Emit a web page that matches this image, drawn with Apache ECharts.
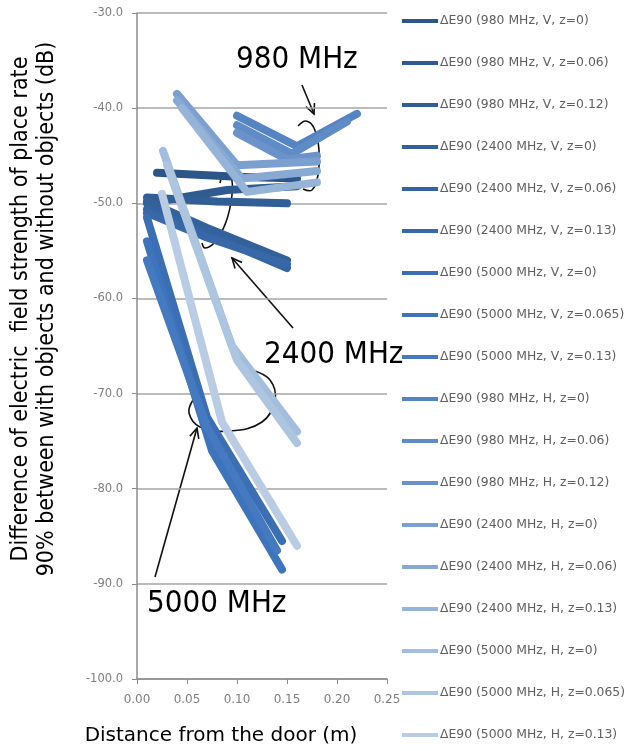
<!DOCTYPE html>
<html>
<head>
<meta charset="utf-8">
<script src="https://cdn.jsdelivr.net/npm/echarts@6/dist/echarts.min.js"></script>
<style>
  html, body { margin: 0; padding: 0; background: #fff; }
  #chart { width: 640px; height: 751px; }
</style>
</head>
<body>
<div id="chart"></div>
<script>
// tick labels
const xTicks = ['0.00', '0.05', '0.10', '0.15', '0.20', '0.25']
const yTicks = ['-100.0', '-90.0', '-80.0', '-70.0', '-60.0', '-50.0', '-40.0', '-30.0']

// legend names (same order as the series below)
const names = [
  'ΔE90 (980 MHz, V, z=0)', 'ΔE90 (980 MHz, V, z=0.06)', 'ΔE90 (980 MHz, V, z=0.12)',
  'ΔE90 (2400 MHz, V, z=0)', 'ΔE90 (2400 MHz, V, z=0.06)', 'ΔE90 (2400 MHz, V, z=0.13)',
  'ΔE90 (5000 MHz, V, z=0)', 'ΔE90 (5000 MHz, V, z=0.065)', 'ΔE90 (5000 MHz, V, z=0.13)',
  'ΔE90 (980 MHz, H, z=0)', 'ΔE90 (980 MHz, H, z=0.06)', 'ΔE90 (980 MHz, H, z=0.12)',
  'ΔE90 (2400 MHz, H, z=0)', 'ΔE90 (2400 MHz, H, z=0.06)', 'ΔE90 (2400 MHz, H, z=0.13)',
  'ΔE90 (5000 MHz, H, z=0)', 'ΔE90 (5000 MHz, H, z=0.065)', 'ΔE90 (5000 MHz, H, z=0.13)'
]

// [distance (m), dB]
const v980 = [
  [[0.02, -46.8], [0.10, -47.2], [0.16, -47.4]],
  [[0.01, -50.0], [0.09, -48.6], [0.16, -48.2]],
  [[0.01, -49.4], [0.08, -49.8], [0.15, -50.0]]
]
const v2400 = [
  [[0.01, -49.8], [0.07, -52.6], [0.15, -56.0]],
  [[0.01, -50.6], [0.07, -53.2], [0.15, -56.8]],
  [[0.01, -51.0], [0.07, -53.6], [0.15, -56.4]]
]
const v5000 = [
  [[0.01, -51.5], [0.07, -72.5], [0.145, -85.5]],
  [[0.01, -54.0], [0.075, -76.0], [0.145, -88.5]],
  [[0.01, -56.0], [0.07, -73.5], [0.14, -86.5]]
]
const h980 = [
  [[0.10, -40.8], [0.16, -44.0], [0.22, -40.6]],
  [[0.10, -41.8], [0.155, -44.8], [0.21, -41.4]],
  [[0.10, -42.6], [0.15, -45.4], [0.18, -45.0]]
]
const h2400 = [
  [[0.04, -38.5], [0.10, -46.0], [0.18, -45.6]],
  [[0.04, -39.2], [0.105, -47.4], [0.18, -46.6]],
  [[0.045, -40.0], [0.11, -48.8], [0.18, -47.8]]
]
const h5000 = [
  [[0.026, -44.5], [0.095, -65.0], [0.16, -74.0]],
  [[0.03, -46.0], [0.10, -66.5], [0.16, -75.2]],
  [[0.025, -49.0], [0.085, -73.0], [0.16, -86.0]]
]

const colors = [
  '#2c5687', '#2f5b90', '#315e95', '#33619b', '#3564a1', '#3868a8',
  '#3b6eb3', '#3e74bb', '#4579c0', '#5584c3', '#5f8bc6', '#6b93c9',
  '#7b9fcf', '#88a9d3', '#96b3d8', '#a3bddc', '#aec5e0', '#b9cce4'
]

const allLines = [].concat(v980, v2400, v5000, h980, h2400, h5000)

const series = allLines.map((pts, i) => ({
  name: names[i],
  type: 'line',
  data: pts,
  symbol: 'none',
  color: colors[i],
  lineStyle: { width: 8, cap: 'round', join: 'round', color: colors[i] }
}))

const ink = '#111'
const condensed = '"DejaVu Sans Condensed", "Roboto", sans-serif'
function arrow (x1, y1, x2, y2) {
  const dx = x2 - x1, dy = y2 - y1
  const len = Math.sqrt(dx * dx + dy * dy)
  const bx = -dx / len, by = -dy / len
  const a = 25 * Math.PI / 180, h = 11
  const r1 = [bx * Math.cos(a) - by * Math.sin(a), bx * Math.sin(a) + by * Math.cos(a)]
  const r2 = [bx * Math.cos(-a) - by * Math.sin(-a), bx * Math.sin(-a) + by * Math.cos(-a)]
  return [
    { type: 'line', shape: { x1, y1, x2, y2 }, style: { stroke: ink, lineWidth: 1.6 } },
    { type: 'polyline', shape: { points: [[x2 + r1[0] * h, y2 + r1[1] * h], [x2, y2], [x2 + r2[0] * h, y2 + r2[1] * h]] }, style: { stroke: ink, lineWidth: 1.6, fill: null } }
  ]
}
function loop (points) {
  return { type: 'polyline', shape: { points, smooth: 0.4 }, style: { stroke: ink, lineWidth: 1.6, fill: null } }
}
function label (text, x, y) {
  return { type: 'text', x, y, style: { text, font: '31px ' + condensed, fill: '#000', textVerticalAlign: 'middle' } }
}

const graphics = [].concat(
  label('980 MHz', 236, 60),
  label('2400 MHz', 264, 355),
  label('5000 MHz', 147, 604),
  arrow(302, 85, 314, 114),
  arrow(293, 328, 232, 258),
  arrow(155, 577, 197, 428),
  loop([[298, 126], [306, 121], [314, 128], [319, 150], [318, 175], [312, 190], [303, 189]]),
  loop([[220, 183], [224, 174], [231, 177], [232, 195], [226, 222], [215, 242], [205, 248], [202, 243]]),
  loop([[193, 400], [189, 413], [200, 427], [230, 431], [262, 422], [275, 400], [270, 380], [252, 370]]),
  [
    { type: 'text', x: 21, y: 309, rotation: Math.PI / 2, style: { text: 'Difference of electric  field strength of place rate', font: '23px ' + condensed, fill: '#000', textAlign: 'center', textVerticalAlign: 'middle' } },
    { type: 'text', x: 47, y: 309, rotation: Math.PI / 2, style: { text: '90% between with objects and without objects (dB)', font: '23px ' + condensed, fill: '#000', textAlign: 'center', textVerticalAlign: 'middle' } },
    { type: 'text', x: 221, y: 736, style: { text: 'Distance from the door (m)', font: '20px "DejaVu Sans"', fill: '#000', textAlign: 'center', textVerticalAlign: 'middle' } }
  ]
)

const chart = echarts.init(document.getElementById('chart'))
chart.setOption({
  animation: false,
  backgroundColor: '#fff',
  grid: { left: 137, right: 253, top: 13, bottom: 72 },
  xAxis: {
    type: 'value',
    min: 0,
    max: 0.25,
    interval: 0.05,
    axisLine: { show: true, lineStyle: { color: '#8c8c8c', width: 1.5 } },
    axisTick: { show: true, length: 5, lineStyle: { color: '#8c8c8c' } },
    axisLabel: {
      color: '#7f7f7f', fontSize: 12, margin: 15, fontFamily: 'DejaVu Sans',
      formatter: v => xTicks[Math.round(v / 0.05)]
    },
    splitLine: { show: false }
  },
  yAxis: {
    type: 'value',
    min: -100,
    max: -30,
    interval: 10,
    axisLine: { show: true, lineStyle: { color: '#8c8c8c', width: 1.5 } },
    axisTick: { show: true, length: 5, lineStyle: { color: '#8c8c8c' } },
    axisLabel: {
      color: '#7f7f7f', fontSize: 11.5, margin: 14, fontFamily: 'DejaVu Sans',
      formatter: v => yTicks[Math.round((v + 100) / 10)]
    },
    splitLine: { show: true, lineStyle: { color: '#a6a6a6', width: 1.5 } }
  },
  legend: {
    orient: 'vertical',
    left: 397,
    top: 10,
    icon: 'path://M0,0H36V4H0Z',
    itemWidth: 36,
    itemHeight: 14,
    itemGap: 30,
    itemStyle: { borderWidth: 0 },
    textStyle: { color: '#5f5f5f', fontSize: 12.4, fontFamily: 'DejaVu Sans', padding: [0, 0, 0, -3] },
    data: names
  },
  graphic: graphics,
  series: series
})
</script>
</body>
</html>
